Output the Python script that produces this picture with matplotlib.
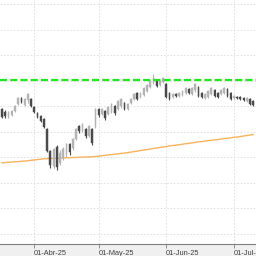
import matplotlib
matplotlib.use("Agg")
import matplotlib.pyplot as plt
import numpy as np

# OHLC (Mar-18-25 .. Jul-09-25, trading days)
opens = [148.9, 147.7, 145.7, 146.5, 148.1, 150.8, 153.2, 150.4, 152.4, 152.8,
         149.6, 147.3, 146.1, 144.9, 141.0, 132.4, 126.5, 134.0, 127.7, 129.7,
         131.2, 135.0, 133.6, 137.1, 142.2, 140.2, 141.0, 138.3, 141.0, 141.8,
         148.9, 146.9, 148.1, 146.9, 147.7, 150.0, 148.9, 150.0, 151.2, 148.9,
         151.2, 152.8, 155.1, 153.6, 154.4, 155.9, 157.5, 159.1, 159.8, 158.3,
         159.5, 158.7, 155.1, 153.6, 154.8, 154.0, 154.4, 155.1, 156.7, 154.8,
         156.3, 157.5, 155.1, 153.2, 153.6, 154.8, 156.3, 155.1, 154.8, 155.1,
         156.7, 155.1, 153.2, 153.6, 153.6, 153.2, 152.0, 152.8, 152.0]
highs = [149.3, 148.5, 148.1, 148.5, 150.4, 153.6, 153.6, 153.2, 155.1, 153.2,
         150.0, 147.7, 146.5, 145.3, 141.4, 132.8, 133.6, 134.8, 132.8, 134.0,
         135.5, 135.5, 137.5, 141.4, 142.6, 143.4, 141.4, 142.6, 141.4, 149.3,
         149.3, 149.3, 148.5, 150.0, 151.2, 150.4, 152.4, 153.2, 151.6, 151.2,
         153.2, 155.1, 155.5, 155.5, 157.5, 158.7, 160.2, 162.6, 160.2, 160.2,
         161.4, 159.1, 155.5, 155.1, 155.1, 155.5, 156.3, 157.5, 157.1, 157.5,
         159.1, 157.9, 155.5, 155.1, 156.3, 157.5, 156.7, 155.5, 156.7, 157.5,
         157.1, 155.5, 154.4, 154.0, 154.0, 153.6, 153.6, 153.2, 152.4]
lows = [145.3, 145.3, 145.3, 146.1, 147.7, 150.4, 151.2, 150.0, 151.2, 149.6,
        147.3, 145.3, 143.8, 141.4, 132.0, 125.7, 125.7, 125.0, 126.9, 128.9,
        130.1, 130.8, 132.8, 136.7, 139.5, 139.9, 137.5, 137.9, 134.8, 141.4,
        145.7, 146.5, 144.6, 146.5, 147.3, 146.5, 148.5, 149.3, 148.5, 148.5,
        150.8, 152.4, 152.4, 153.2, 154.0, 155.5, 157.1, 158.7, 157.5, 157.9,
        159.1, 153.2, 152.4, 153.2, 153.6, 153.6, 154.0, 154.8, 154.8, 154.4,
        155.5, 153.6, 153.2, 152.8, 153.2, 154.4, 153.6, 153.2, 154.4, 154.8,
        153.6, 152.4, 152.8, 152.8, 152.4, 152.0, 151.6, 150.4, 150.0]
closes = [145.7, 146.1, 147.7, 148.1, 150.0, 153.2, 151.6, 152.8, 154.8, 150.0,
          147.7, 145.7, 144.2, 141.8, 132.4, 127.0, 133.2, 126.0, 131.6, 133.2,
          135.0, 132.0, 137.0, 141.0, 140.2, 143.0, 138.3, 142.2, 135.6, 148.9,
          146.5, 148.9, 145.3, 149.6, 150.8, 147.3, 152.0, 152.8, 148.9, 150.8,
          152.8, 154.8, 152.8, 155.1, 157.1, 158.3, 159.8, 161.0, 157.9, 159.8,
          161.0, 153.6, 152.8, 154.8, 154.0, 155.1, 155.9, 157.1, 155.1, 157.1,
          158.7, 154.0, 153.6, 154.8, 155.9, 157.1, 154.0, 153.6, 156.3, 157.1,
          154.0, 152.8, 154.0, 153.2, 152.8, 152.4, 153.2, 150.8, 150.4]
# long moving average
ma_values = [127.8, 127.9, 128.0, 128.1, 128.2, 128.3, 128.4, 128.5, 128.6, 128.8,
             128.9, 129.1, 129.2, 129.4, 129.4, 129.5, 129.5, 129.6, 129.6, 129.7,
             129.8, 129.8, 129.9, 129.9, 130.0, 130.0, 130.1, 130.1, 130.2, 130.3,
             130.4, 130.6, 130.7, 130.9, 131.0, 131.2, 131.3, 131.5, 131.6, 131.8,
             132.0, 132.2, 132.4, 132.6, 132.8, 133.0, 133.2, 133.4, 133.6, 133.8,
             134.0, 134.2, 134.4, 134.6, 134.7, 134.9, 135.1, 135.3, 135.4, 135.6,
             135.8, 136.0, 136.1, 136.3, 136.5, 136.6, 136.8, 136.9, 137.1, 137.3,
             137.4, 137.6, 137.8, 137.9, 138.1, 138.3, 138.5, 138.7, 138.9]
resistance = 160.2

tick_idx = [10, 30, 51, 72]
tick_labels = ['01-Abr-25', '01-May-25', '01-Jun-25', '01-Jul-25']

up_color = '#b4b4b4'
down_color = '#4a4a4a'

fig = plt.figure(figsize=(2.56, 2.56), dpi=100, facecolor='#f0f0f0')
ax = fig.add_axes([0, 12 / 256, 1, 244 / 256])
ax.set_facecolor('white')

x = np.arange(len(opens))
o = np.array(opens)
c = np.array(closes)
up = c >= o
colors = [up_color if u else down_color for u in up]

# velas: mecha + cuerpo estrecho
ax.vlines(x, lows, highs, colors=colors, linewidth=0.8, zorder=3)
ax.bar(x, np.abs(c - o), bottom=np.minimum(o, c), width=0.5,
       color=colors, edgecolor=colors, linewidth=0.3, zorder=3)

ax.plot(x, ma_values, color='#f7b25e', linewidth=1.0, zorder=2)
ax.axhline(resistance, color='#22e61e', linewidth=1.6, dashes=(3.2, 1.4), zorder=4)

ax.set_xlim(-0.62, 78.88)
ax.set_ylim(96.0, 191.6)
ax.set_yticks(np.arange(100, 191, 10))
ax.set_xticks(tick_idx)
ax.set_xticklabels(tick_labels, fontsize=5.3, color='#404040',
                   ha='left', family='Liberation Sans')
ax.tick_params(axis='x', length=3, width=0.6, color='#808080', pad=1)
ax.tick_params(axis='y', left=False, labelleft=False)
ax.grid(True, color='#dddddd', linestyle=(0, (2, 2)), linewidth=0.6, zorder=0)
for side in ['top', 'left', 'right']:
    ax.spines[side].set_visible(False)
ax.spines['bottom'].set_color('#808080')
ax.spines['bottom'].set_linewidth(0.8)

fig.savefig('out.png', dpi=100, facecolor=fig.get_facecolor())
